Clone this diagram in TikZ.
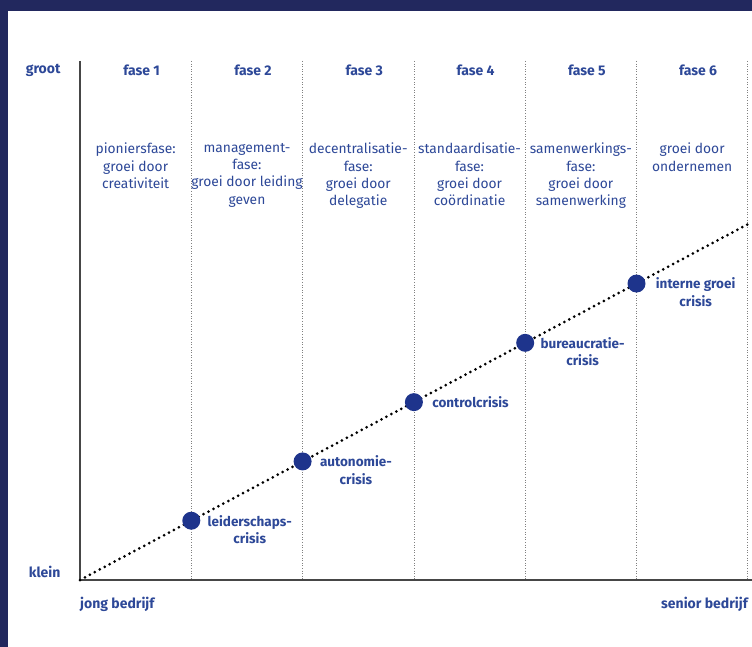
\documentclass[tikz,border=0pt]{standalone}
\usepackage{fontspec}
\setmainfont{Fira Sans}
\usepackage{xcolor}
\usetikzlibrary{positioning}
\definecolor{navyband}{RGB}{34,40,94}
\definecolor{textblue}{RGB}{45,72,152}
\definecolor{dotblue}{RGB}{30,52,140}
\definecolor{axisgray}{RGB}{70,70,70}

\begin{document}
\begin{tikzpicture}[x=1pt,y=-1pt,
		every node/.style={text=textblue, font=\fontsize{13.8}{17.3}\selectfont},
		fase/.style={font=\fontsize{14}{17.3}\selectfont\bfseries},
		descr/.style={align=center, anchor=north, inner sep=0pt},
		crisis/.style={circle, fill=dotblue, minimum size=18pt, inner sep=0pt},
		crisislabel/.style={align=center, inner sep=0pt, font=\fontsize{13.5}{17.3}\selectfont\bfseries},
		column/.style={draw=gray, line width=0.8pt, dash pattern=on 1pt off 1.6pt},
		diag/.style={line width=3pt, line cap=round, dash pattern=on 0pt off 5.6pt},
		axis/.style={draw=axisgray, line width=1.8pt},
	]
		\useasboundingbox (0,0) rectangle (752,647);
		\fill[white] (0,0) rectangle (752,647);
		\fill[navyband] (0,0) rectangle (752,11);
		\fill[navyband] (0,0) rectangle (8,647);
		
		\coordinate (o) at (80,580);
		\coordinate (top) at (80,61);
		\coordinate (xend) at (752,580);
		\coordinate (e) at (752,222);
		
		\foreach \i in {1,...,6}{
			\coordinate (col\i) at (80+\i*111.3,61);
			\draw[column] (col\i) -- (80+\i*111.3,580);
			\node[fase] (f\i) at (86+\i*111.3-55.65,70) {fase \i};
		}
		
		\draw[axis] (top) -- (o) -- (xend);
		
		\node[descr] (d1) at (80+1*111.3-55.65,143) {pioniersfase:\\groei door\\creativiteit};
		\node[descr] (d2) at (80+2*111.3-55.65,143) {management-\\fase:\\groei door leiding\\geven};
		\node[descr] (d3) at (80+3*111.3-55.65,143) {decentralisatie-\\fase:\\groei door\\delegatie};
		\node[descr] (d4) at (80+4*111.3-55.65,143) {standaardisatie-\\fase:\\groei door\\coördinatie};
		\node[descr] (d5) at (80+5*111.3-55.65,143) {samenwerkings-\\fase:\\groei door\\samenwerking};
		\node[descr] (d6) at (80+6*111.3-55.65,143) {groei door\\ondernemen};
		
		\draw[diag] (o) -- (e);
		
		\foreach \i in {1,...,5}
			\node[crisis] (c\i) at (80+\i*111.3,580-\i*59.29) {};
		
		\node[crisislabel, right=7pt of c1, yshift=-8.6pt] (l1) {leiderschaps-\\crisis};
		\node[crisislabel, right=8pt of c2, yshift=-8.6pt] (l2) {autonomie-\\crisis};
		\node[crisislabel, right=9pt of c3] (l3) {controlcrisis};
		\node[crisislabel, right=6pt of c4, yshift=-8.6pt] (l4) {bureaucratie-\\crisis};
		\node[crisislabel, right=10pt of c5, yshift=-8.6pt] (l5) {interne groei\\crisis};
		
		\node[fase, anchor=east] (groot) at (64,70) {groot};
		\node[fase, anchor=east] (klein) at (64,572) {klein};
		\node[fase, anchor=west, inner sep=0pt] (jong) at (80,604) {jong bedrijf};
		\node[fase, anchor=east, inner sep=0pt] (senior) at (748,604) {senior bedrijf};
	\end{tikzpicture}
\end{document}
